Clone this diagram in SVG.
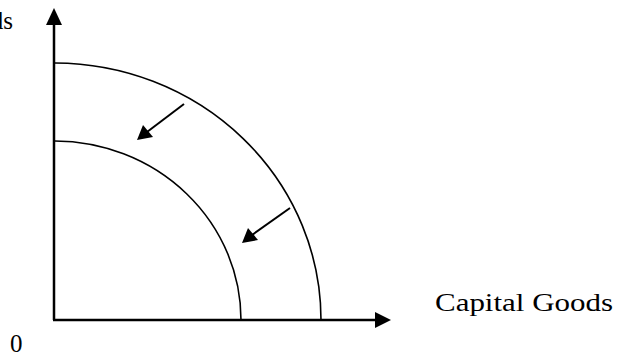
<svg xmlns="http://www.w3.org/2000/svg" width="621" height="361" viewBox="0 0 621 361">
<defs>
<style>
.txt{font-family:"Liberation Serif","Times New Roman",serif;fill:#000}
.axis{stroke:#000;stroke-width:2.5;fill:none}
.curve{stroke:#000;stroke-width:1.6;fill:none}
.arr{stroke:#000;stroke-width:2;fill:none}
</style>
</defs>
<rect width="621" height="361" fill="#fff"/>
<g id="connectors">
<line class="axis" x1="54" y1="320" x2="54" y2="22"/>
<polygon points="54,8 46,25 62,25" fill="#000"/>
<line class="axis" x1="53" y1="320" x2="377" y2="320"/>
<polygon points="391,320 375,312 375,328" fill="#000"/>
</g>
<g id="outer-curve">
<path class="curve" d="M55,63 A267,257 0 0 1 321,320"/>
</g>
<g id="inner-curve">
<path class="curve" d="M55,141 A187,179 0 0 1 241,320"/>
</g>
<g id="shift-arrows">
<line class="arr" x1="184" y1="104" x2="147" y2="132"/>
<polygon points="137,140 143,125 153,137" fill="#000"/>
<line class="arr" x1="290" y1="208" x2="252" y2="235"/>
<polygon points="242,243 248,228 258,240" fill="#000"/>
</g>
<g id="labels">
<text class="txt" x="13" y="29" font-size="25" text-anchor="end">Consumer Goods</text>
<text class="txt" x="10" y="352" font-size="25">0</text>
<text class="txt" x="435" y="311" font-size="25" textLength="178" lengthAdjust="spacingAndGlyphs">Capital Goods</text>
</g>
</svg>
